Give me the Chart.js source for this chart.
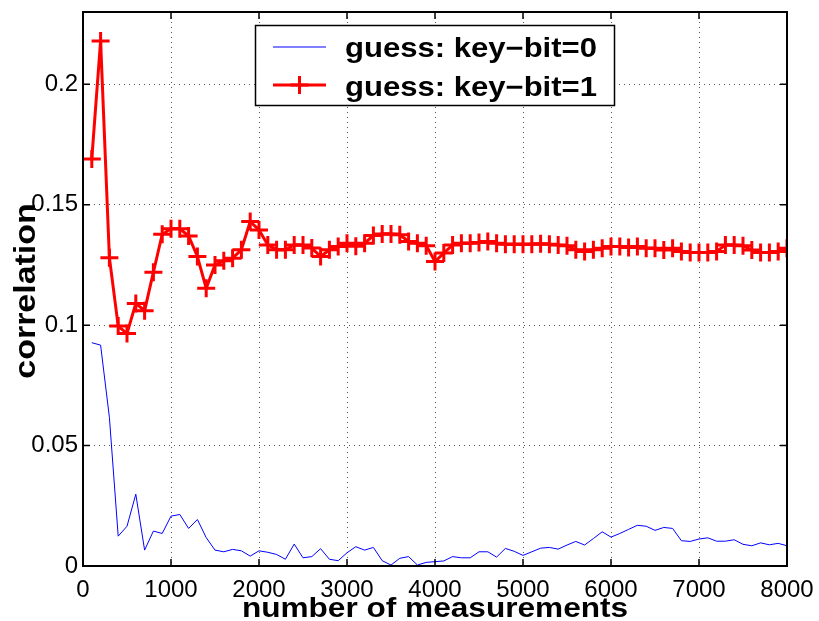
<!DOCTYPE html>
<html>
<head>
<meta charset="utf-8">
<script src="https://cdn.jsdelivr.net/npm/chart.js@4/dist/chart.umd.min.js"></script>
<style>
  html, body { margin: 0; padding: 0; background: #fff; }
  canvas { display: block; }
</style>
</head>
<body>
<canvas id="c" width="819" height="621"></canvas>
<script>
// Number of measurements at which the correlation was evaluated
const measurements = [
  100, 200, 300, 400, 500, 600, 700, 800, 900, 1000,
  1100, 1200, 1300, 1400, 1500, 1600, 1700, 1800, 1900, 2000,
  2100, 2200, 2300, 2400, 2500, 2600, 2700, 2800, 2900, 3000,
  3100, 3200, 3300, 3400, 3500, 3600, 3700, 3800, 3900, 4000,
  4100, 4200, 4300, 4400, 4500, 4600, 4700, 4800, 4900, 5000,
  5100, 5200, 5300, 5400, 5500, 5600, 5700, 5800, 5900, 6000,
  6100, 6200, 6300, 6400, 6500, 6600, 6700, 6800, 6900, 7000,
  7100, 7200, 7300, 7400, 7500, 7600, 7700, 7800, 7900, 8000
];

// Correlation for the guess key-bit = 0
const corrKeyBit0 = [
  0.0927, 0.0917, 0.0617, 0.0124, 0.0165, 0.0298, 0.0066, 0.0145, 0.0135, 0.0207,
  0.0214, 0.0156, 0.0193, 0.0118, 0.0066, 0.0059, 0.0069, 0.0063, 0.0041, 0.0063,
  0.0057, 0.0048, 0.0028, 0.0091, 0.0034, 0.0039, 0.0072, 0.0028, 0.0022, 0.0055,
  0.0080, 0.0066, 0.0077, 0.0022, 0.0004, 0.0032, 0.0039, 0.0004, 0.0015, 0.0018,
  0.0021, 0.0039, 0.0034, 0.0034, 0.0059, 0.0059, 0.0037, 0.0073, 0.0061, 0.0044,
  0.0059, 0.0074, 0.0077, 0.0070, 0.0087, 0.0102, 0.0087, 0.0114, 0.0142, 0.0120,
  0.0135, 0.0152, 0.0169, 0.0165, 0.0148, 0.0160, 0.0156, 0.0105, 0.0102, 0.0112,
  0.0117, 0.0103, 0.0103, 0.0109, 0.0090, 0.0084, 0.0096, 0.0088, 0.0094, 0.0084
];

// Correlation for the guess key-bit = 1
const corrKeyBit1 = [
  0.1690, 0.2180, 0.1280, 0.0996, 0.0965, 0.1090, 0.1060, 0.1220, 0.1377, 0.1400,
  0.1400, 0.1370, 0.1285, 0.1153, 0.1250, 0.1267, 0.1278, 0.1313, 0.1430, 0.1395,
  0.1333, 0.1313, 0.1313, 0.1333, 0.1333, 0.1320, 0.1285, 0.1313, 0.1326, 0.1340,
  0.1328, 0.1340, 0.1372, 0.1378, 0.1378, 0.1375, 0.1347, 0.1340, 0.1330, 0.1264,
  0.1299, 0.1333, 0.1340, 0.1340, 0.1343, 0.1347, 0.1340, 0.1336, 0.1336, 0.1336,
  0.1336, 0.1338, 0.1336, 0.1333, 0.1330, 0.1313, 0.1306, 0.1313, 0.1319, 0.1326,
  0.1326, 0.1322, 0.1326, 0.1319, 0.1319, 0.1312, 0.1319, 0.1306, 0.1302, 0.1302,
  0.1302, 0.1306, 0.1333, 0.1333, 0.1330, 0.1312, 0.1302, 0.1302, 0.1306, 0.1319
];

const xTickValues = [0, 1000, 2000, 3000, 4000, 5000, 6000, 7000, 8000];
const yTickValues = [0, 0.05, 0.1, 0.15, 0.2];
const yTickLabels = ['0', '0.05', '0.1', '0.15', '0.2'];

const seriesNames = ['guess: key\u2212bit=0', 'guess: key\u2212bit=1'];
const xTitle = 'number of measurements';
const yTitle = 'correlation';

const FONT = '"Liberation Sans", Arial, Helvetica, sans-serif';

function toPoints(ys) {
  return measurements.map((x, i) => ({ x: x, y: ys[i] }));
}

// Draw text widened horizontally (titles use a wide bold face)
function wideText(ctx, text, x, y, sx, angle, align) {
  ctx.save();
  ctx.translate(x, y);
  ctx.rotate(angle);
  ctx.scale(sx, 1);
  ctx.textAlign = align;
  ctx.textBaseline = 'alphabetic';
  ctx.fillText(text, 0, 0);
  ctx.restore();
}

// Keep the plot box fixed: no extra room reserved for edge tick labels
function noEdgePadding(s) {
  s.paddingTop = 0;
  s.paddingBottom = 0;
  s.paddingLeft = 0;
  s.paddingRight = 0;
}

// Box frame with inward tick marks on all four sides
const boxFrame = {
  id: 'boxFrame',
  afterDatasetsDraw(chart) {
    const { ctx, chartArea: a, scales } = chart;
    ctx.save();
    ctx.strokeStyle = '#000';
    ctx.lineWidth = 1.5;
    const tl = 7;
    ctx.beginPath();
    xTickValues.forEach(v => {
      const px = scales.x.getPixelForValue(v);
      ctx.moveTo(px, a.bottom); ctx.lineTo(px, a.bottom - tl);
      ctx.moveTo(px, a.top); ctx.lineTo(px, a.top + tl);
    });
    yTickValues.forEach(v => {
      const py = scales.y.getPixelForValue(v);
      ctx.moveTo(a.left, py); ctx.lineTo(a.left + tl, py);
      ctx.moveTo(a.right, py); ctx.lineTo(a.right - tl, py);
    });
    ctx.stroke();
    ctx.lineWidth = 2;
    ctx.strokeRect(a.left, a.top, a.right - a.left, a.bottom - a.top);
    ctx.restore();
  },
  afterDraw(chart) {
    const { ctx, chartArea: a } = chart;
    ctx.save();
    ctx.fillStyle = '#000';
    // axis titles
    ctx.font = 'bold 27px ' + FONT;
    wideText(ctx, xTitle, (a.left + a.right) / 2, 617, 1.17, 0, 'center');
    ctx.font = 'bold 29px ' + FONT;
    wideText(ctx, yTitle, 35, 291, 1.17, -Math.PI / 2, 'center');

    // legend box
    const bx = 255.5, by = 25.5, bw = 359, bh = 80;
    ctx.fillStyle = '#fff';
    ctx.fillRect(bx, by, bw, bh);
    ctx.strokeStyle = '#000';
    ctx.lineWidth = 1.5;
    ctx.strokeRect(bx, by, bw, bh);

    const rows = [47, 85];
    const ds = chart.data.datasets;
    ctx.lineCap = 'butt';
    rows.forEach((ry, i) => {
      ctx.strokeStyle = ds[i].borderColor;
      ctx.lineWidth = ds[i].borderWidth;
      ctx.beginPath();
      ctx.moveTo(273, ry); ctx.lineTo(326, ry);
      ctx.stroke();
      if (ds[i].pointRadius > 0) {
        const r = ds[i].pointRadius;
        ctx.lineWidth = ds[i].pointBorderWidth;
        ctx.beginPath();
        ctx.moveTo(299.5 - r, ry); ctx.lineTo(299.5 + r, ry);
        ctx.moveTo(299.5, ry - r); ctx.lineTo(299.5, ry + r);
        ctx.stroke();
      }
    });
    ctx.fillStyle = '#000';
    ctx.font = 'bold 27px ' + FONT;
    wideText(ctx, seriesNames[0], 345, 57, 1.15, 0, 'left');
    wideText(ctx, seriesNames[1], 345, 96, 1.15, 0, 'left');
    ctx.restore();
  }
};

const dottedGrid = {
  display: true,
  drawTicks: false,
  color: 'rgba(0,0,0,0.65)',
  lineWidth: 1
};
const dottedBorder = { display: true, color: '#000', width: 2, dash: [1, 4] };

new Chart(document.getElementById('c'), {
  type: 'line',
  data: {
    datasets: [
      {
        label: seriesNames[0],
        data: toPoints(corrKeyBit0),
        borderColor: '#0000ff',
        backgroundColor: '#0000ff',
        borderWidth: 1,
        pointRadius: 0,
        tension: 0,
        fill: false
      },
      {
        label: seriesNames[1],
        data: toPoints(corrKeyBit1),
        borderColor: '#ff0000',
        backgroundColor: '#ff0000',
        borderWidth: 3,
        pointStyle: 'cross',
        pointRadius: 9,
        pointBorderWidth: 3,
        pointBorderColor: '#ff0000',
        tension: 0,
        fill: false
      }
    ]
  },
  options: {
    responsive: false,
    animation: false,
    devicePixelRatio: 1,
    layout: { padding: { left: 0, top: 10, right: 32, bottom: 0 } },
    plugins: {
      legend: { display: false },
      tooltip: { enabled: false }
    },
    scales: {
      x: {
        type: 'linear',
        min: 0,
        max: 8000,
        afterBuildTicks: s => { s.ticks = xTickValues.map(v => ({ value: v })); },
        afterFit: s => { s.height = 55; noEdgePadding(s); },
        ticks: {
          padding: 10,
          color: '#000',
          font: { family: FONT, size: 24 },
          maxRotation: 0,
          autoSkip: false,
          callback: v => String(v)
        },
        grid: dottedGrid,
        border: dottedBorder
      },
      y: {
        type: 'linear',
        min: 0,
        max: 0.23,
        afterBuildTicks: s => { s.ticks = yTickValues.map(v => ({ value: v })); },
        afterFit: s => { s.width = 83; noEdgePadding(s); },
        ticks: {
          padding: 5,
          color: '#000',
          font: { family: FONT, size: 24 },
          autoSkip: false,
          callback: (v, i) => yTickLabels[i]
        },
        grid: dottedGrid,
        border: dottedBorder
      }
    }
  },
  plugins: [boxFrame]
});
</script>
</body>
</html>
